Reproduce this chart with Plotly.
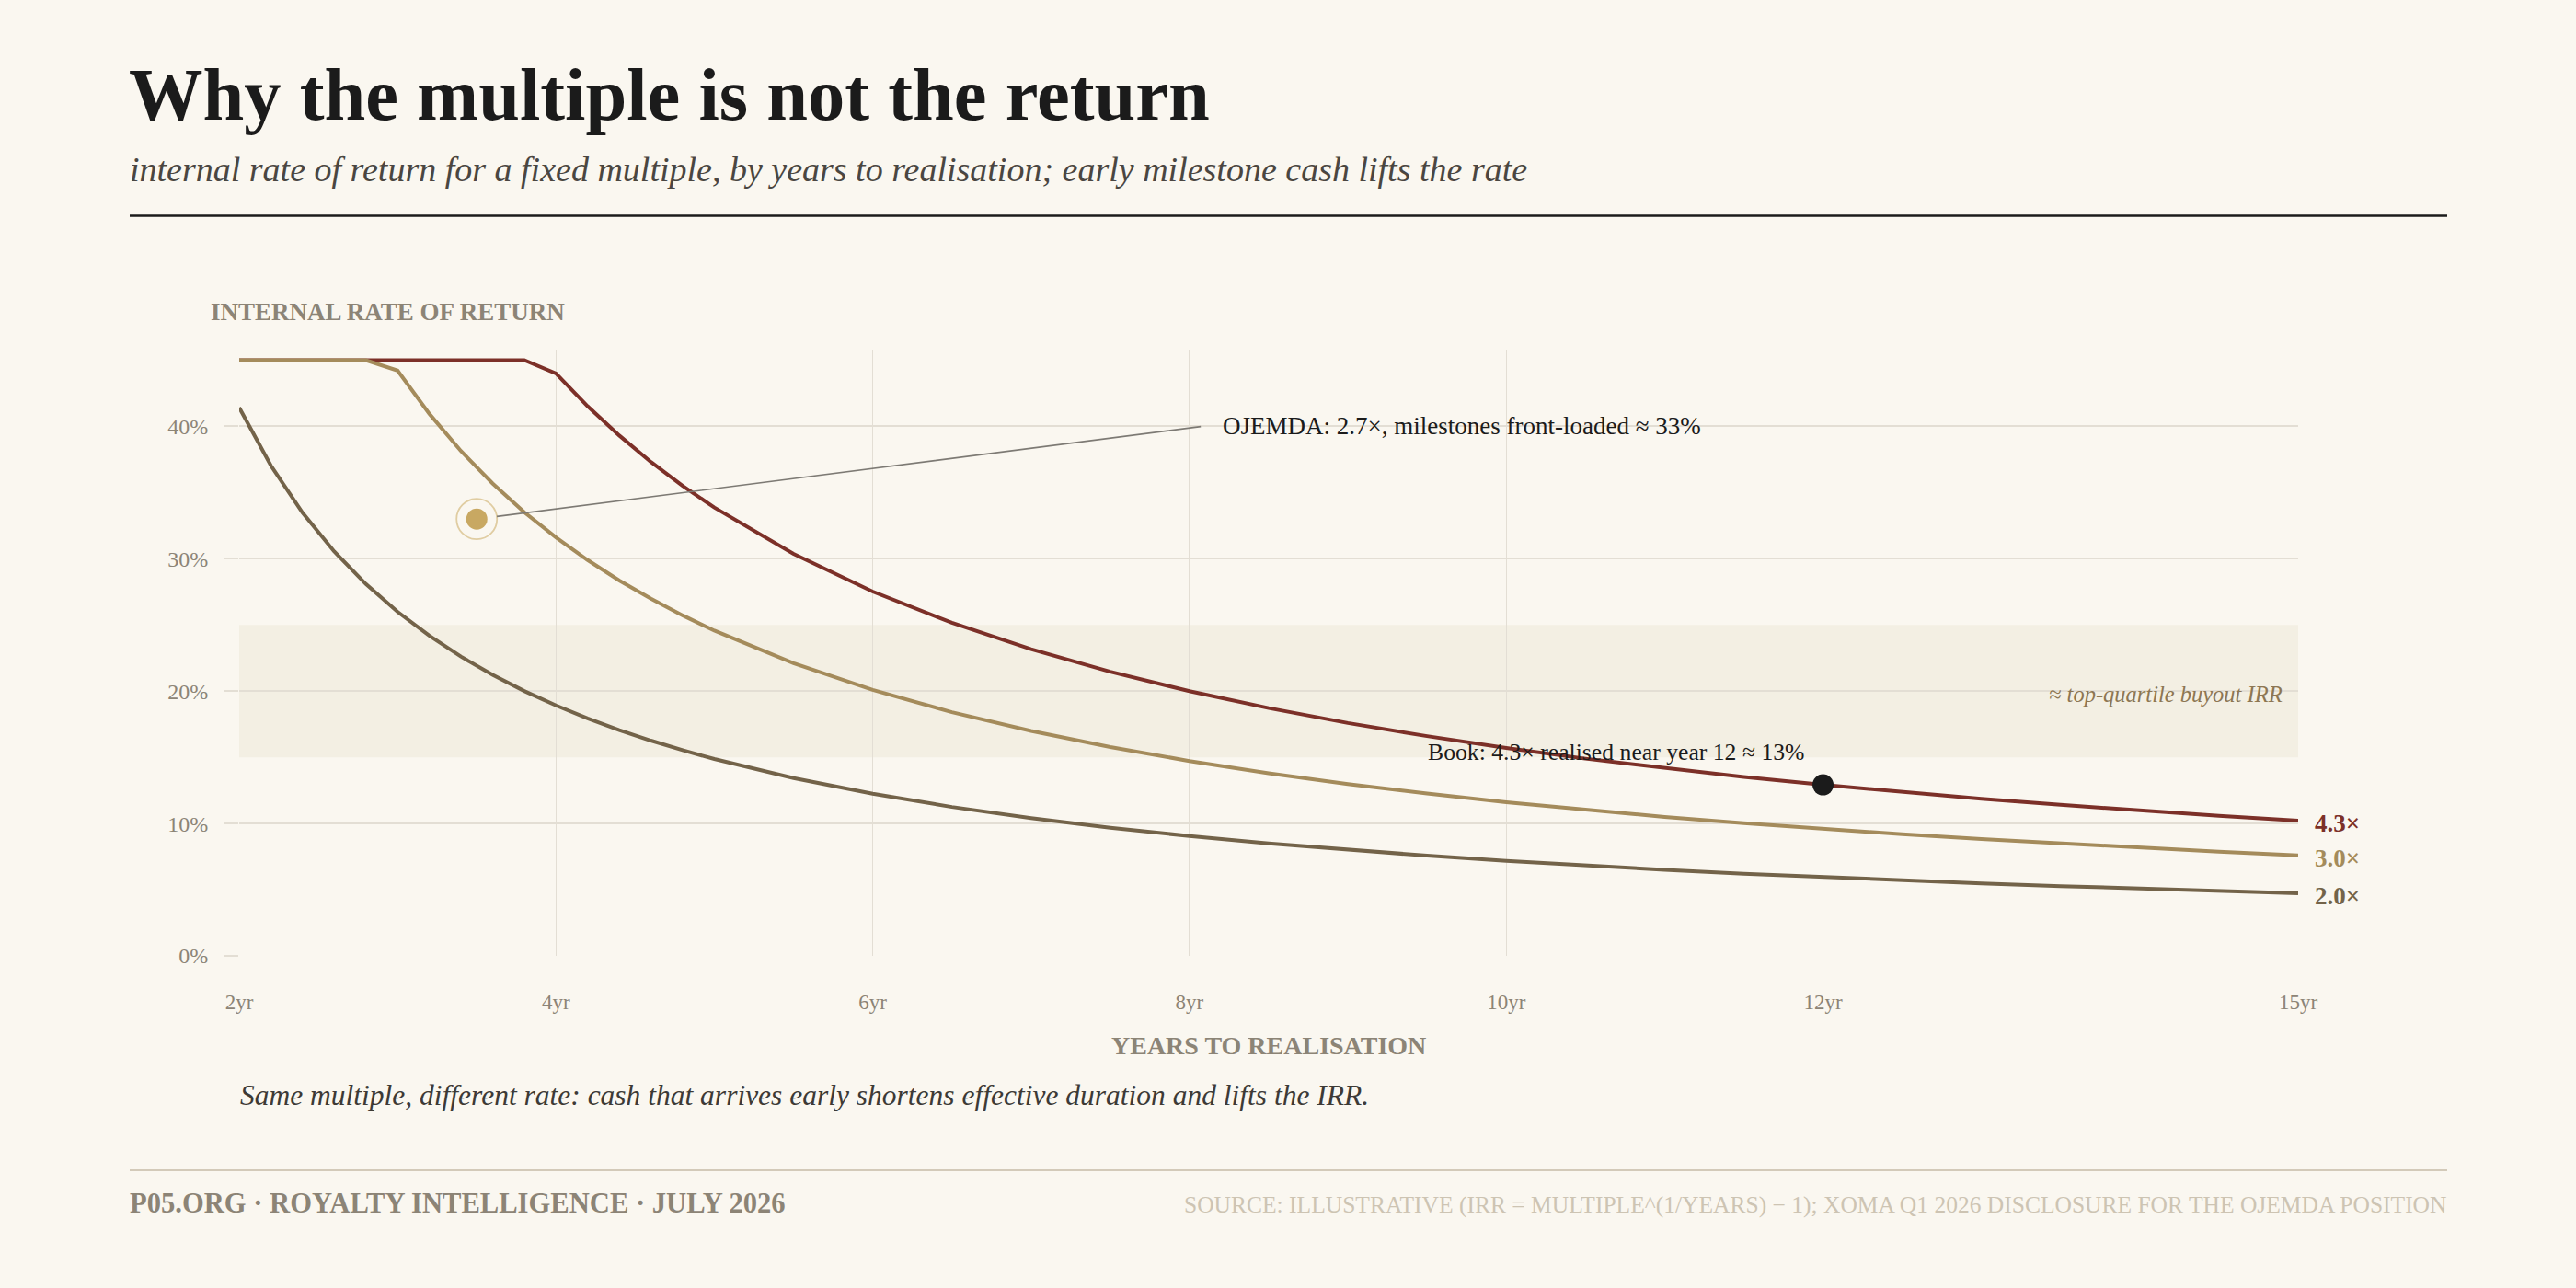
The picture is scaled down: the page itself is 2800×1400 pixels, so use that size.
import plotly.graph_objects as go

# ---------------- data ----------------
YEARS = [2.0, 2.2, 2.4, 2.6, 2.8, 3.0, 3.2, 3.4, 3.6, 3.8, 4.0, 4.2, 4.4, 4.6, 4.8, 5.0,
         5.5, 6.0, 6.5, 7.0, 7.5, 8.0, 8.5, 9.0, 9.5, 10.0, 10.5, 11.0, 11.5, 12.0,
         12.5, 13.0, 13.5, 14.0, 14.5, 15.0]

IRR_4_3X = [45, 45, 45, 45, 45, 45, 45, 45, 45, 45, 44.00, 41.52, 39.31, 37.31, 35.51, 33.87,
            30.37, 27.52, 25.16, 23.17, 21.47, 20.00, 18.72, 17.59, 16.60, 15.70, 14.90, 14.18,
            13.52, 12.92, 12.38, 11.87, 11.41, 10.98, 10.58, 10.21]
IRR_3_0X = [45, 45, 45, 45, 45, 44.22, 40.96, 38.14, 35.69, 33.52, 31.61, 29.90, 28.36, 26.98,
            25.72, 24.57, 22.11, 20.09, 18.41, 16.99, 15.78, 14.72, 13.80, 12.98, 12.26, 11.61,
            11.03, 10.50, 10.02, 9.59, 9.19, 8.82, 8.48, 8.16, 7.87, 7.60]
IRR_2_0X = [41.42, 37.04, 33.48, 30.55, 28.09, 25.99, 24.19, 22.61, 21.23, 20.01, 18.92, 17.94,
            17.06, 16.26, 15.54, 14.87, 13.43, 12.25, 11.25, 10.41, 9.68, 9.05, 8.50, 8.01,
            7.57, 7.18, 6.82, 6.50, 6.21, 5.95, 5.70, 5.48, 5.27, 5.08, 4.90, 4.73]

SERIES_NAMES = ["4.3×", "3.0×", "2.0×"]
SERIES_COLORS = ["#7c3028", "#a48b5b", "#736349"]

X_TICKS = [2, 4, 6, 8, 10, 12, 15]
X_TICK_TEXT = ["2yr", "4yr", "6yr", "8yr", "10yr", "12yr", "15yr"]
Y_TICKS = [0, 10, 20, 30, 40]
Y_TICK_TEXT = ["0%", "10%", "20%", "30%", "40%"]

BAND = (15, 25)
OJEMDA_POINT = (3.5, 33)
OJEMDA_LABEL_AT = (8.2, 40)
BOOK_YEAR = 12

TITLE = "Why the multiple is not the return"
SUBTITLE = "internal rate of return for a fixed multiple, by years to realisation; early milestone cash lifts the rate"
CAPTION = "Same multiple, different rate: cash that arrives early shortens effective duration and lifts the IRR."
FOOT_LEFT = "P05.ORG · ROYALTY INTELLIGENCE · JULY 2026"
FOOT_RIGHT = "SOURCE: ILLUSTRATIVE (IRR = MULTIPLE^(1/YEARS) − 1); XOMA Q1 2026 DISCLOSURE FOR THE OJEMDA POSITION"

# ---------------- layout constants ----------------
W, H = 2800, 1400
ML, MR, MT, MB = 260, 302, 380, 361
PW, PH = W - ML - MR, H - MT - MB
BG = "#faf7f0"
GRID = "#e3ded4"
MUTED = "#8c8476"
FONT = "Liberation Serif, serif"
XR = [2, 15]
YR = [0, 45.8]


def px(x):
    return (x - ML) / PW


def py(y):
    return (MT + PH - y) / PH


fig = go.Figure()

for name, ys, col in zip(SERIES_NAMES, [IRR_4_3X, IRR_3_0X, IRR_2_0X], SERIES_COLORS):
    fig.add_trace(go.Scatter(x=YEARS, y=ys, mode="lines", name=name,
                             line=dict(color=col, width=4), hoverinfo="skip"))
    fig.add_annotation(x=YEARS[-1], y=ys[-1], text="<b>%s</b>" % name, showarrow=False,
                       xanchor="left", yanchor="middle", xshift=16, yshift=-3,
                       font=dict(family=FONT, size=27, color=col))

# OJEMDA marker: ring + dot
fig.add_trace(go.Scatter(x=[OJEMDA_POINT[0]], y=[OJEMDA_POINT[1]], mode="markers",
                         marker=dict(size=44, color="rgba(0,0,0,0)",
                                     line=dict(color="#e0cda2", width=1.8)),
                         hoverinfo="skip"))
fig.add_trace(go.Scatter(x=[OJEMDA_POINT[0]], y=[OJEMDA_POINT[1]], mode="markers",
                         marker=dict(size=23, color="#c8a862"), hoverinfo="skip"))

# Book marker
book_val = IRR_4_3X[YEARS.index(BOOK_YEAR)]
fig.add_trace(go.Scatter(x=[BOOK_YEAR], y=[book_val], mode="markers",
                         marker=dict(size=23, color="#1b1b1b"), hoverinfo="skip"))

# band
fig.add_shape(type="rect", xref="x", yref="y", x0=XR[0], x1=XR[1], y0=BAND[0], y1=BAND[1],
              fillcolor="#f3efe3", line=dict(width=0), layer="below")

# leader line for OJEMDA
fig.add_annotation(x=OJEMDA_POINT[0], y=OJEMDA_POINT[1], ax=OJEMDA_LABEL_AT[0] - 0.12,
                   ay=OJEMDA_LABEL_AT[1], axref="x", ayref="y", xref="x", yref="y",
                   text="", showarrow=True, arrowhead=0, arrowwidth=1.6,
                   arrowcolor="#7d7a74", standoff=22, startstandoff=0)
fig.add_annotation(x=OJEMDA_LABEL_AT[0], y=OJEMDA_LABEL_AT[1], xref="x", yref="y",
                   text="OJEMDA: 2.7×, milestones front-loaded ≈ 33%", showarrow=False,
                   xanchor="left", yanchor="middle", font=dict(family=FONT, size=27, color="#1b1b1b"))

fig.add_annotation(x=BOOK_YEAR - 0.1, y=book_val + 2.5, xref="x", yref="y",
                   text="Book: 4.3× realised near year 12 ≈ 13%", showarrow=False,
                   xanchor="right", yanchor="middle", font=dict(family=FONT, size=25.7, color="#1b1b1b"))

fig.add_annotation(x=XR[1] - 0.09, y=(BAND[0] + BAND[1]) / 2 - 0.25, xref="x", yref="y",
                   text="<i>≈ top-quartile buyout IRR</i>", showarrow=False,
                   xanchor="right", yanchor="middle", font=dict(family=FONT, size=24.5, color="#8d7652"))

# header / footer texts
def ptext(x, y, text, size, color, xanchor="left", italic=False, bold=False):
    t = text
    if bold:
        t = "<b>%s</b>" % t
    if italic:
        t = "<i>%s</i>" % t
    fig.add_annotation(x=px(x), y=py(y), xref="paper", yref="paper", text=t, showarrow=False,
                       xanchor=xanchor, yanchor="middle",
                       font=dict(family=FONT, size=size, color=color))


ptext(138, 102, TITLE, 80.5, "#1b1b1b", bold=True)
ptext(139, 184, SUBTITLE, 38, "#4a4641", italic=True)
ptext(227, 339, "INTERNAL RATE OF RETURN", 27, MUTED, bold=True)
ptext(ML + PW / 2, 1136, "YEARS TO REALISATION", 28, MUTED, xanchor="center", bold=True)
ptext(259, 1190, CAPTION, 31.5, "#3d3a36", italic=True)
ptext(139, 1308, FOOT_LEFT, 30.6, MUTED, bold=True)
ptext(2661, 1309, FOOT_RIGHT, 25.5, "#cdc4b3", xanchor="right")

fig.add_shape(type="line", xref="paper", yref="paper", x0=px(141), x1=px(2660),
              y0=py(234.5), y1=py(234.5), line=dict(color="#1b1b1b", width=2.5))
fig.add_shape(type="line", xref="paper", yref="paper", x0=px(141), x1=px(2660),
              y0=py(1272), y1=py(1272), line=dict(color="#d3cab9", width=1.8))

fig.update_layout(
    width=W, height=H, paper_bgcolor=BG, plot_bgcolor=BG,
    margin=dict(l=ML, r=MR, t=MT, b=MB, pad=0),
    showlegend=False, hovermode=False,
    xaxis=dict(range=XR, tickvals=X_TICKS, ticktext=X_TICK_TEXT, showgrid=True,
               gridcolor=GRID, gridwidth=1.2, zeroline=False, showline=False, ticks="",
               ticklabelstandoff=34, tickfont=dict(family=FONT, size=23, color=MUTED)),
    yaxis=dict(range=YR, tickvals=Y_TICKS, ticktext=Y_TICK_TEXT, showgrid=True,
               gridcolor=GRID, gridwidth=1.8, zeroline=False, showline=False,
               ticks="outside", ticklen=16, tickcolor=GRID, tickwidth=1.8,
               ticklabelstandoff=12, tickfont=dict(family=FONT, size=24, color=MUTED)),
)

fig.write_html("out.html")
